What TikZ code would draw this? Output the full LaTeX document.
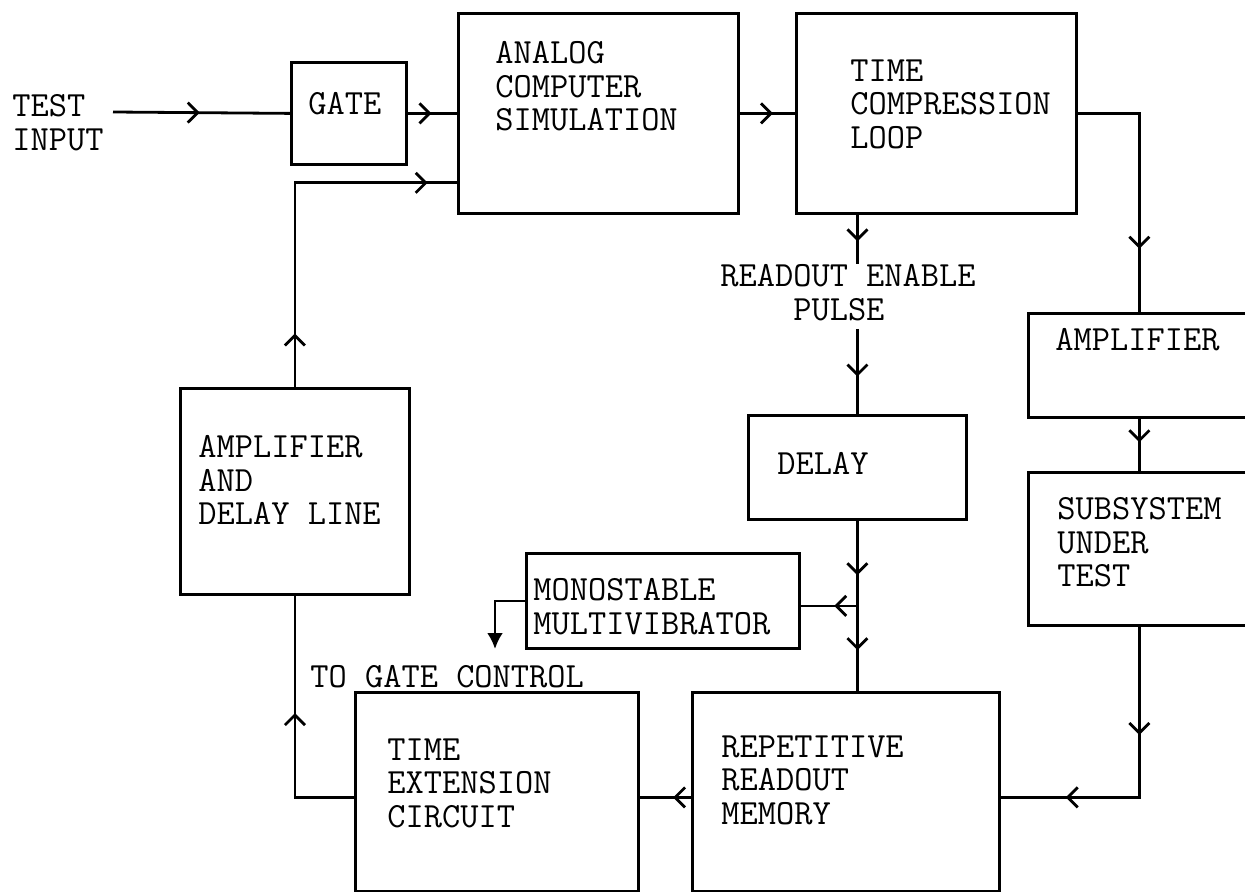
\documentclass[tikz,border=0pt]{standalone}
\usepackage{tikz}
\usetikzlibrary{arrows.meta,calc,decorations.markings}
\tikzset{
  box/.style={draw=black, line width=1.4pt, inner sep=0pt, anchor=north west},
  lbl/.style={anchor=north west, inner sep=0pt, align=left, text=black,
    font=\ttfamily\fontsize{17.7}{16.8}\selectfont},
  wire/.style={draw=black, line width=1.4pt},
  barb/.tip={Straight Barb[length=5pt,width=10pt]},
  flow/.style={wire, postaction={decorate},
    decoration={markings, mark=at position #1 with {\arrow{barb}}}},
  flowtwo/.style 2 args={wire, postaction={decorate},
    decoration={markings, mark=at position #1 with {\arrow{barb}},
      mark=at position #2 with {\arrow{barb}}}}
}
% frame + typed text: name, left, top, width, height, text offset, text
\newcommand{\blk}[7]{%
  \node[box, minimum width=#4*0.5pt, minimum height=#5*0.5pt] (#1) at (#2,#3) {};
  \node[lbl] (#1-t) at ([shift={(#6)}]#1.north west) {#7};
}

\begin{document}
\begin{tikzpicture}[x=0.5pt,y=-0.5pt]
  \useasboundingbox (0,0) rectangle (1245,892);
  \fill[white] (0,0) rectangle (1245,892);
  \clip (0,0) rectangle (1245,892);

  % Top row: input path.
  \node[lbl] (testin) at (12,94) {TEST\\INPUT};
  \blk{gate}{290}{61}{115}{102}{18,31}{GATE}
  \blk{analog}{457}{12}{280}{200}{38,29}{ANALOG\\COMPUTER\\SIMULATION}
  \blk{tc}{795}{12}{280}{200}{55,47}{TIME\\COMPRESSION\\LOOP}

  % Right column.
  \blk{ampR}{1027}{312}{222}{104}{28,16}{AMPLIFIER}
  \blk{sub}{1027}{471}{222}{153}{30,26}{SUBSYSTEM\\UNDER\\TEST}

  % Readout branch.
  \node[lbl, anchor=north] (readout) at (848,264) {READOUT ENABLE\\\phantom{READ}PULSE};
  \blk{delay}{747}{414}{218}{104}{30,38}{DELAY}
  \blk{mono}{525}{552}{273}{95}{8,26}{MONOSTABLE\\MULTIVIBRATOR}
  \node[lbl] (togate) at (310,665) {TO GATE CONTROL};

  % Bottom row and feedback.
  \blk{ampdl}{179}{387}{229}{206}{19,48}{AMPLIFIER\\AND\\DELAY LINE}
  \blk{te}{354}{691}{283}{199}{33,47}{TIME\\EXTENSION\\CIRCUIT}
  \blk{rep}{691}{691}{307}{199}{30,44}{REPETITIVE\\READOUT\\MEMORY}

  % Connectors.
  \coordinate (src) at (113,112);
  \draw[flow=0.49] (src) -- (gate.west);
  \draw[flow=0.48] (gate.east) -- (analog.west);
  \draw[flow=0.6] (analog.east) -- (tc.west);
  \draw[flow=0.757] (tc.east) -| (ampR.north);
  \draw[flow=0.45] (ampR.south) -- (sub.north);
  \draw[flowtwo={0.35}{0.79}] (sub.south) |- ([yshift=-2.75pt]rep.east);
  \draw[flow=0.35] ([yshift=-2.75pt]rep.west) -- ([yshift=-2.75pt]te.east);
  \draw[flow=0.55] ([yshift=-2.75pt]te.west) -| (ampdl.south);
  \draw[flowtwo={0.146}{0.92}] (ampdl.north) |- ([yshift=16pt]analog.south west);

  \draw[flow=0.54] (tc.south -| delay.north) -- (readout.north -| delay.north);
  \draw[flow=0.56] ([yshift=-4pt]readout.south -| delay.north) -- (delay.north);
  \draw[flowtwo={0.32}{0.76}] (delay.south) -- (delay.south |- rep.north);
  \coordinate (tap) at ($(delay.south)!0.5!(delay.south |- rep.north)$);
  \draw[flow=0.41] (tap) -- (tap -| mono.east);
  \coordinate (gatectl) at (495,649);
  \draw[wire, -{Latex[length=8pt,width=8pt]}] (mono.west) -| (gatectl);
\end{tikzpicture}
\end{document}
